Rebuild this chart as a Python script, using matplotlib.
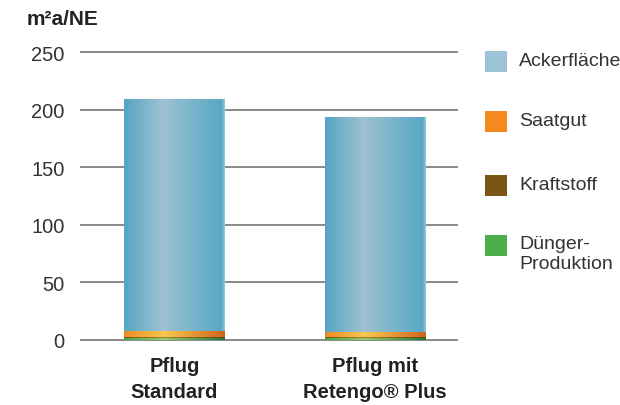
import numpy as np
import matplotlib
matplotlib.use("Agg")
import matplotlib.pyplot as plt
from matplotlib.patches import Rectangle

plt.rcParams['font.family'] = ['Liberation Sans', 'DejaVu Sans']

categories = ["Pflug\nStandard", "Pflug mit\nRetengo® Plus"]
series_names = ["Ackerfläche", "Saatgut", "Kraftstoff", "Dünger-\nProduktion"]
duenger = [2.0, 1.8]
kraftstoff = [0.5, 0.5]
saatgut = [5.5, 5.0]
ackerflaeche = [201.0, 186.7]
y_ticks = [0, 50, 100, 150, 200, 250]

legend_colors = {
    "Ackerfläche": "#9dc3d6",
    "Saatgut": "#f5891f",
    "Kraftstoff": "#7b5518",
    "Dünger-\nProduktion": "#4bae4a",
}

# horizontal shading stops (left, highlight, right) for the cylinder look
shades = {
    "Ackerfläche": [(0.0, (86, 165, 195)), (0.38, (158, 194, 209)), (0.97, (88, 168, 198)), (1.0, (150, 200, 218))],
    "Saatgut": [(0.0, (240, 140, 40)), (0.4, (248, 200, 75)), (1.0, (208, 100, 30))],
    "Kraftstoff": [(0.0, (120, 85, 25)), (0.4, (160, 120, 50)), (1.0, (100, 70, 20))],
    "Dünger-\nProduktion": [(0.0, (70, 165, 70)), (0.4, (150, 205, 105)), (1.0, (30, 120, 50))],
}

def gradient_row(stops, n=256):
    xs = np.linspace(0, 1, n)
    pos = [s[0] for s in stops]
    row = np.zeros((1, n, 3))
    for c in range(3):
        row[0, :, c] = np.interp(xs, pos, [s[1][c] / 255 for s in stops])
    return row

W, H = 620, 406
fig = plt.figure(figsize=(W / 100, H / 100), dpi=100)
ax = fig.add_axes([80 / W, (406 - 342.15) / H, 378 / W, 0.7178])

x = np.arange(len(categories))
bar_w = 0.5
stack = [("Dünger-\nProduktion", duenger), ("Kraftstoff", kraftstoff),
         ("Saatgut", saatgut), ("Ackerfläche", ackerflaeche)]
bottom = np.zeros(len(categories))
for name, vals in stack:
    bars = ax.bar(x, vals, bar_w, bottom=bottom, color=legend_colors[name],
                  linewidth=0, zorder=3)
    img = gradient_row(shades[name])
    for p in bars.patches:
        x0, y0 = p.get_x(), p.get_y()
        im = ax.imshow(img, extent=(x0, x0 + p.get_width(), y0, y0 + p.get_height()),
                       aspect='auto', interpolation='bilinear', zorder=4)
        im.set_clip_path(p)
    bottom += np.array(vals)

ax.set_xlim(-0.471, 1.414)
ax.set_ylim(-1, 252)
ax.set_yticks(y_ticks)
ax.set_yticklabels([str(t) for t in y_ticks])
for t in y_ticks:
    ax.axhline(t, color="#8a8a8a", linewidth=1.4, zorder=2)
ax.set_xticks(x)
ax.set_xticklabels(categories, fontweight='bold', fontsize=14.5, color="#222222",
                   linespacing=1.45)
ax.tick_params(axis='x', length=0, pad=11)
ax.tick_params(axis='y', length=0, pad=11, labelsize=14.5, labelcolor="#333333")
for s in ax.spines.values():
    s.set_visible(False)

fig.text(27 / W, (H - 25) / H, "m²a/NE", fontweight='bold', fontsize=15,
         color="#222222", va='baseline', ha='left')

# legend drawn as squares with labels at the right
legend_y = [62, 122, 186, 246]
for name, yc in zip(series_names, legend_y):
    fig.patches.append(Rectangle((485 / W, (H - yc - 10.5) / H), 22 / W, 21 / H,
                                 transform=fig.transFigure,
                                 facecolor=legend_colors[name], edgecolor='none'))
    if "\n" in name:
        fig.text(519 / W, (H - yc + 10) / H, name, fontsize=14, color="#333333",
                 va='top', ha='left', linespacing=1.2)
    else:
        fig.text(519 / W, (H - yc) / H, name, fontsize=14, color="#333333",
                 va='center', ha='left')

fig.savefig("out.png", dpi=100)
